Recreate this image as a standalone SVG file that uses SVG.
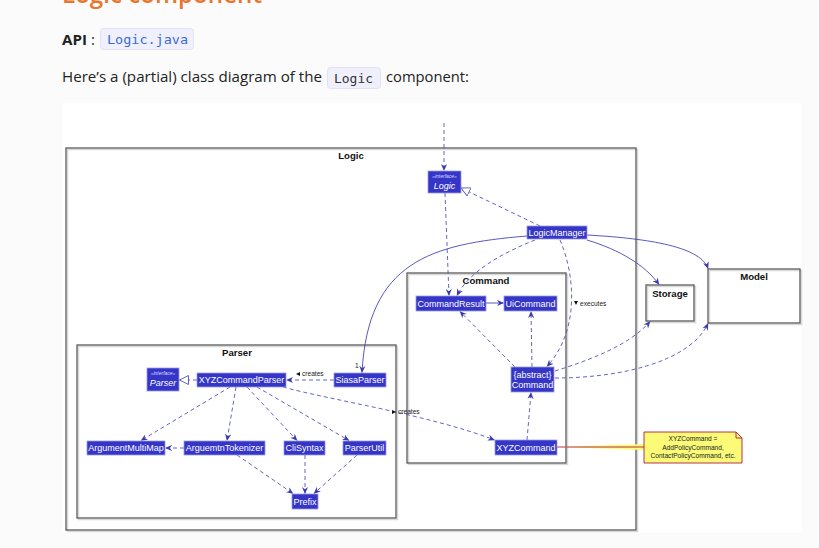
<svg xmlns="http://www.w3.org/2000/svg" width="819" height="548" viewBox="0 0 819 548">
<defs>
<style>
.page{font-family:"Open Sans","Noto Sans",sans-serif;fill:#222;}
.code{font-family:"DejaVu Sans Mono","Liberation Mono",monospace;font-size:13px;}
.frame{fill:none;stroke:#5a5a5a;stroke-width:1.3;}
.shadow{fill:none;stroke:#d8d8d8;stroke-width:1.5;}
.ftitle{font-family:"Liberation Sans",Arial,sans-serif;font-weight:bold;font-size:9.6px;fill:#111;text-anchor:middle;}
.node rect{fill:#3535c8;stroke:#9a9ae6;stroke-width:0.8;}
.node text{font-family:"Liberation Sans",Arial,sans-serif;font-size:9px;fill:#fff;text-anchor:middle;}
.node text.st{font-size:5px;font-style:italic;fill:#dcdcff;}
.node text.it{font-style:italic;}
.d{fill:none;stroke:#5252c0;stroke-width:0.9;stroke-dasharray:4,3;}
.s{fill:none;stroke:#4646b4;stroke-width:0.9;}
.lbl{font-family:"Liberation Sans",Arial,sans-serif;font-size:6.6px;fill:#222;}
</style>
<marker id="ar" viewBox="0 0 8 8" refX="7.5" refY="4" markerWidth="7" markerHeight="7" orient="auto" markerUnits="userSpaceOnUse">
<path d="M0,0.5 L8,4 L0,7.5 L2.5,4 z" fill="#3a3ab0"/>
</marker>
<marker id="tri" viewBox="0 0 10 10" refX="9.5" refY="5" markerWidth="10" markerHeight="10" orient="auto" markerUnits="userSpaceOnUse">
<path d="M0.5,0.5 L9.5,5 L0.5,9.5 z" fill="#fff" stroke="#5252c0" stroke-width="0.9"/>
</marker>
</defs>
<rect x="0" y="0" width="819" height="548" fill="#fbfbfb"/>
<g id="page-text">
<text class="page" x="62" y="3" font-size="25" font-weight="600" style="fill:#e8762d" textLength="200" lengthAdjust="spacingAndGlyphs">Logic component</text>
<text class="page" x="62" y="45" font-size="15" font-weight="bold" textLength="25" lengthAdjust="spacingAndGlyphs">API</text>
<text class="page" x="91" y="45" font-size="15">:</text>
<rect x="100.5" y="28.5" width="93" height="21" rx="3" fill="#eff0fb" stroke="#e1e3f3"/>
<text class="code" x="107" y="44" fill="#3b6ad8" textLength="81" lengthAdjust="spacingAndGlyphs">Logic.java</text>
<text class="page" x="62" y="82" font-size="15" textLength="260" lengthAdjust="spacingAndGlyphs">Here’s a (partial) class diagram of the</text>
<rect x="327.5" y="67.5" width="53" height="21" rx="3" fill="#eff0fb" stroke="#e1e3f3"/>
<text class="code" x="334" y="83" fill="#333" textLength="39" lengthAdjust="spacingAndGlyphs">Logic</text>
<text class="page" x="386" y="82" font-size="15" textLength="83" lengthAdjust="spacingAndGlyphs">component:</text>
</g>
<rect x="62" y="103" width="740" height="430" fill="#ffffff"/>
<g id="frames">
<rect class="shadow" x="67.5" y="149.5" width="570" height="382"/>
<rect class="frame" x="66" y="148" width="570" height="382"/>
<text class="ftitle" x="351" y="159">Logic</text>
<rect class="shadow" x="408.5" y="274.5" width="159" height="190"/>
<rect class="frame" x="407" y="273" width="159" height="190"/>
<text class="ftitle" x="486" y="284">Command</text>
<rect class="shadow" x="78.5" y="346.5" width="319" height="173"/>
<rect class="frame" x="77" y="345" width="319" height="173"/>
<text class="ftitle" x="237" y="356">Parser</text>
<rect class="shadow" x="647.5" y="286.5" width="48" height="36"/>
<rect class="frame" x="646" y="285" width="48" height="36"/>
<text class="ftitle" x="670" y="297">Storage</text>
<rect class="shadow" x="709.5" y="270.5" width="92" height="54"/>
<rect class="frame" x="708" y="269" width="92" height="54"/>
<text class="ftitle" x="754" y="280">Model</text>
</g>
<g id="connectors">
<path class="d" d="M444,123 L444,170.5" marker-end="url(#ar)"/>
<path class="d" d="M540,226 L461,188" marker-end="url(#tri)"/>
<path class="d" d="M445,193 L449,295.5" marker-end="url(#ar)"/>
<path class="d" d="M535,240 C505,252 470,270 457,295.5" marker-end="url(#ar)"/>
<path class="d" d="M560,240 C575,275 580,330 547,366.5" marker-end="url(#ar)"/>
<path class="s" d="M587,240 C620,250 645,265 659,284.5" marker-end="url(#ar)"/>
<path class="s" d="M587,235 C640,238 700,245 708,268.5" marker-end="url(#ar)"/>
<path class="s" d="M527,236 C430,244 368,262 362,372.5" marker-end="url(#ar)"/>
<path class="s" d="M486,303 L503.5,303" marker-end="url(#ar)"/>
<path class="d" d="M515,367 L460,311.5" marker-end="url(#ar)"/>
<path class="d" d="M532,367 L531,311.5" marker-end="url(#ar)"/>
<path class="d" d="M555,371 C590,360 630,345 650,321.5" marker-end="url(#ar)"/>
<path class="d" d="M555,378 C620,378 690,362 708,323.5" marker-end="url(#ar)"/>
<path class="d" d="M527,440 L531,392.5" marker-end="url(#ar)"/>
<path class="d" d="M334,380 L286.5,380" marker-end="url(#ar)"/>
<path class="d" d="M197,380 L179.5,380" marker-end="url(#tri)"/>
<path class="d" d="M283,387 C330,400 430,415 494.5,440" marker-end="url(#ar)"/>
<path class="d" d="M230,387 L141,440.5" marker-end="url(#ar)"/>
<path class="d" d="M236,387 L227,440.5" marker-end="url(#ar)"/>
<path class="d" d="M247,387 L297,440.5" marker-end="url(#ar)"/>
<path class="d" d="M257,387 L349,440.5" marker-end="url(#ar)"/>
<path class="d" d="M184,448 L165.5,448" marker-end="url(#ar)"/>
<path class="d" d="M237,455 L293,493.5" marker-end="url(#ar)"/>
<path class="d" d="M305,455 L305,493.5" marker-end="url(#ar)"/>
<path class="d" d="M357,455 L314,493.5" marker-end="url(#ar)"/>
<path d="M557,447 L644,444 L644,450 z" fill="#fbfb77"/>
<path d="M557,447 L644,447" fill="none" stroke="#a80036" stroke-width="0.8"/>
<path d="M296,374 L300,372 L300,376 z" fill="#111"/>
<text class="lbl" x="302" y="376">creates</text>
<path d="M396,412 L392,410 L392,414 z" fill="#111"/>
<text class="lbl" x="398" y="414">creates</text>
<path d="M574,301 L578,301 L576,305 z" fill="#111"/>
<text class="lbl" x="580" y="306">executes</text>
<text class="lbl" x="355" y="368" font-size="7">1</text>
</g>
<g id="Logic" class="node">
<rect x="428" y="171" width="33" height="22"/>
<text class="st" x="444.5" y="178">«interface»</text>
<text class="it" x="444.5" y="189">Logic</text>
</g>
<g id="LogicManager" class="node">
<rect x="527" y="226" width="60" height="13"/>
<text x="557" y="235.5">LogicManager</text>
</g>
<g id="CommandResult" class="node">
<rect x="416" y="296" width="70" height="15"/>
<text x="451" y="306.5">CommandResult</text>
</g>
<g id="UiCommand" class="node">
<rect x="504" y="296" width="53" height="15"/>
<text x="530.5" y="306.5">UiCommand</text>
</g>
<g id="Command" class="node">
<rect x="511" y="367" width="43" height="25"/>
<text x="532.5" y="377.5">{abstract}</text>
<text x="532.5" y="388">Command</text>
</g>
<g id="XYZCommand" class="node">
<rect x="495" y="440" width="62" height="15"/>
<text x="526" y="450.5">XYZCommand</text>
</g>
<g id="Parser" class="node">
<rect x="147" y="368" width="32" height="23"/>
<text class="st" x="163" y="375">«interface»</text>
<text class="it" x="163" y="386">Parser</text>
</g>
<g id="XYZCommandParser" class="node">
<rect x="197" y="373" width="89" height="14"/>
<text x="241.5" y="383">XYZCommandParser</text>
</g>
<g id="SiasaParser" class="node">
<rect x="334" y="373" width="52" height="14"/>
<text x="360" y="383">SiasaParser</text>
</g>
<g id="ArgumentMultiMap" class="node">
<rect x="87" y="441" width="78" height="14"/>
<text x="126" y="451">ArgumentMultiMap</text>
</g>
<g id="ArguemtnTokenizer" class="node">
<rect x="184" y="441" width="81" height="14"/>
<text x="224.5" y="451">ArguemtnTokenizer</text>
</g>
<g id="CliSyntax" class="node">
<rect x="284" y="441" width="41" height="14"/>
<text x="304.5" y="451">CliSyntax</text>
</g>
<g id="ParserUtil" class="node">
<rect x="343" y="441" width="43" height="14"/>
<text x="364.5" y="451">ParserUtil</text>
</g>
<g id="Prefix" class="node">
<rect x="292" y="494" width="26" height="15"/>
<text x="305" y="504.5">Prefix</text>
</g>
<g id="note">
<path d="M644,432 L736,432 L742,438 L742,463 L644,463 z" fill="#fbfb77" stroke="#a80036" stroke-width="0.8"/>
<path d="M736,432 L736,438 L742,438" fill="none" stroke="#a80036" stroke-width="0.8"/>
<text class="lbl" x="693" y="441" text-anchor="middle">XYZCommand =</text>
<text class="lbl" x="693" y="449.5" text-anchor="middle">AddPolicyCommand,</text>
<text class="lbl" x="693" y="458" text-anchor="middle">ContactPolicyCommand, etc.</text>
</g>
</svg>
